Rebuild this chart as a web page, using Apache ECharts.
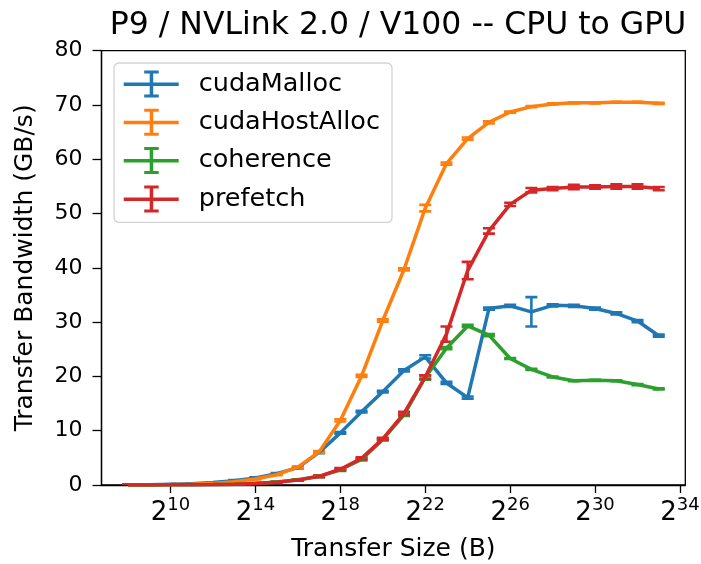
<!DOCTYPE html>
<html>
<head>
<meta charset="utf-8">
<script src="https://cdn.jsdelivr.net/npm/echarts@6/dist/echarts.min.js"></script>
<style>
  html, body { margin: 0; padding: 0; background: #fff; }
  #main { width: 701px; height: 564px; }
</style>
</head>
<body>
<div id="main"></div>
<script>
// transfer sizes as powers of two: 2^8 .. 2^33
var sizeExp = [8, 9, 10, 11, 12, 13, 14, 15, 16, 17, 18, 19, 20,
               21, 22, 23, 24, 25, 26, 27, 28, 29, 30, 31, 32, 33];
var tickExp = [10, 14, 18, 22, 26, 30, 34];

// bandwidth (GB/s)
var cudaMalloc = [0.03, 0.06, 0.12, 0.24, 0.45, 0.8, 1.3, 2.1, 3.2, 6.0, 9.6, 13.5, 17.2,
                  21.1, 23.6, 18.8, 16.1, 32.5, 33.0, 31.9, 33.1, 33.0, 32.5, 31.6, 30.2, 27.5];
var cudaHostAlloc = [0.02, 0.04, 0.08, 0.15, 0.3, 0.6, 1.1, 1.9, 3.3, 6.1, 11.9, 20.1, 30.3,
                     39.7, 51.0, 59.2, 63.8, 66.8, 68.7, 69.7, 70.2, 70.4, 70.4, 70.5, 70.5, 70.3];
var coherence = [0.01, 0.02, 0.03, 0.05, 0.08, 0.15, 0.28, 0.55, 0.95, 1.6, 2.8, 4.7, 8.4,
                 12.9, 19.8, 25.2, 29.3, 27.6, 23.3, 21.3, 19.9, 19.2, 19.3, 19.2, 18.5, 17.7];
var prefetch = [0.01, 0.02, 0.03, 0.05, 0.08, 0.15, 0.27, 0.5, 0.9, 1.6, 2.9, 4.9, 8.5,
                13.2, 19.9, 27.8, 39.5, 46.8, 51.7, 54.3, 54.6, 54.9, 54.9, 55.0, 55.0, 54.6];

// error (std dev, GB/s)
var cudaMallocErr = [0.05, 0.05, 0.05, 0.05, 0.05, 0.1, 0.1, 0.1, 0.15, 0.15, 0.15, 0.15, 0.15,
                     0.2, 0.3, 0.2, 0.2, 0.2, 0.2, 2.7, 0.2, 0.2, 0.2, 0.2, 0.2, 0.2];
var cudaHostAllocErr = [0.05, 0.05, 0.05, 0.05, 0.05, 0.1, 0.1, 0.1, 0.1, 0.15, 0.2, 0.2, 0.2,
                        0.2, 0.6, 0.2, 0.2, 0.2, 0.1, 0.1, 0.1, 0.1, 0.1, 0.1, 0.1, 0.1];
var coherenceErr = [0.05, 0.05, 0.05, 0.05, 0.05, 0.1, 0.1, 0.1, 0.1, 0.15, 0.2, 0.2, 0.2,
                    0.2, 0.4, 0.2, 0.2, 0.2, 0.1, 0.1, 0.1, 0.1, 0.1, 0.1, 0.1, 0.1];
var prefetchErr = [0.05, 0.05, 0.05, 0.05, 0.05, 0.1, 0.1, 0.1, 0.1, 0.15, 0.2, 0.2, 0.2,
                   0.3, 0.3, 1.4, 1.6, 0.5, 0.3, 0.4, 0.3, 0.4, 0.3, 0.4, 0.4, 0.3];

var names = ['cudaMalloc', 'cudaHostAlloc', 'coherence', 'prefetch'];
var values = [cudaMalloc, cudaHostAlloc, coherence, prefetch];
var errs = [cudaMallocErr, cudaHostAllocErr, coherenceErr, prefetchErr];
var colors = ['#1f77b4', '#ff7f0e', '#2ca02c', '#d62728'];

var font = 'DejaVu Sans';
// errorbar glyph for the legend
var ebIcon = 'path://M0,12L55,12L55,15.5L0,15.5Z M26,0L29.5,0L29.5,27L26,27Z ' +
             'M20.5,0L35,0L35,3L20.5,3Z M20.5,24L35,24L35,27L20.5,27Z';

var series = [];
names.forEach(function(name, i) {
  series.push({
    name: name,
    type: 'line',
    data: sizeExp.map(function(e, j) { return [e, values[i][j]]; }),
    showSymbol: false,
    symbol: 'none',
    color: colors[i],
    lineStyle: { width: 3.5, color: colors[i] },
    emphasis: { disabled: true }
  });
  series.push({
    name: name + ' err',
    type: 'custom',
    clip: true,
    data: sizeExp.map(function(e, j) { return [e, values[i][j], errs[i][j]]; }),
    renderItem: function(params, api) {
      var x = api.value(0), y = api.value(1), e = api.value(2);
      var lo = api.coord([x, y - e]);
      var hi = api.coord([x, y + e]);
      var w = 6;
      var st = { stroke: colors[i], lineWidth: 2.6 };
      return {
        type: 'group',
        children: [
          { type: 'line', shape: { x1: lo[0], y1: lo[1], x2: hi[0], y2: hi[1] }, style: st },
          { type: 'line', shape: { x1: lo[0] - w, y1: lo[1], x2: lo[0] + w, y2: lo[1] }, style: st },
          { type: 'line', shape: { x1: hi[0] - w, y1: hi[1], x2: hi[0] + w, y2: hi[1] }, style: st }
        ]
      };
    }
  });
});

var myChart = echarts.init(document.getElementById('main'));
var option = {
  animation: false,
  backgroundColor: '#fff',
  title: {
    text: 'P9 / NVLink 2.0 / V100 -- CPU to GPU',
    left: 393,
    textAlign: 'center',
    top: 5,
    textStyle: { fontFamily: font, fontSize: 31.5, fontWeight: 'normal', color: '#000' }
  },
  legend: {
    data: names.map(function(n) { return { name: n, icon: ebIcon }; }),
    orient: 'vertical',
    left: 114,
    top: 63,
    itemWidth: 55,
    itemHeight: 27,
    itemGap: 11.3,
    padding: [7.5, 12, 10, 9.7],
    backgroundColor: 'rgba(255,255,255,0.8)',
    borderColor: '#d3d3d3',
    borderWidth: 1.3,
    borderRadius: 5,
    selectedMode: false,
    textStyle: { fontFamily: font, fontSize: 25.5, color: '#000', padding: [0, 0, 0, 15] }
  },
  grid: {
    left: 101.5,
    right: 15.7,
    top: 50.7,
    bottom: 79,
    outerBoundsMode: 'none',
    containLabel: false,
    show: true,
    borderColor: '#000',
    borderWidth: 1.3
  },
  xAxis: {
    type: 'value',
    min: 6.75,
    max: 34.25,
    name: 'Transfer Size (B)',
    nameLocation: 'middle',
    nameGap: 52,
    nameTextStyle: { fontFamily: font, fontSize: 25, color: '#000' },
    splitLine: { show: false },
    axisLine: { lineStyle: { color: '#000', width: 1.3 } },
    axisTick: { customValues: tickExp, length: 8, lineStyle: { color: '#000', width: 1.3 } },
    axisLabel: {
      customValues: tickExp,
      margin: 11,
      formatter: function(v) { return '{b|2}{s|' + v + '}'; },
      rich: {
        b: { fontFamily: font, fontSize: 26, color: '#000', lineHeight: 30, verticalAlign: 'bottom' },
        s: { fontFamily: font, fontSize: 18, color: '#000', lineHeight: 30, verticalAlign: 'top' }
      }
    }
  },
  yAxis: {
    type: 'value',
    min: 0,
    max: 80,
    interval: 10,
    name: 'Transfer Bandwidth (GB/s)',
    nameLocation: 'middle',
    nameGap: 64,
    nameTextStyle: { fontFamily: font, fontSize: 25, color: '#000' },
    splitLine: { show: false },
    axisLine: { show: true, lineStyle: { color: '#000', width: 1.3 } },
    axisTick: { show: true, length: 9, lineStyle: { color: '#000', width: 1.3 } },
    axisLabel: { fontFamily: font, fontSize: 22, color: '#000', margin: 19 }
  },
  series: series
};
myChart.setOption(option);
</script>
</body>
</html>
